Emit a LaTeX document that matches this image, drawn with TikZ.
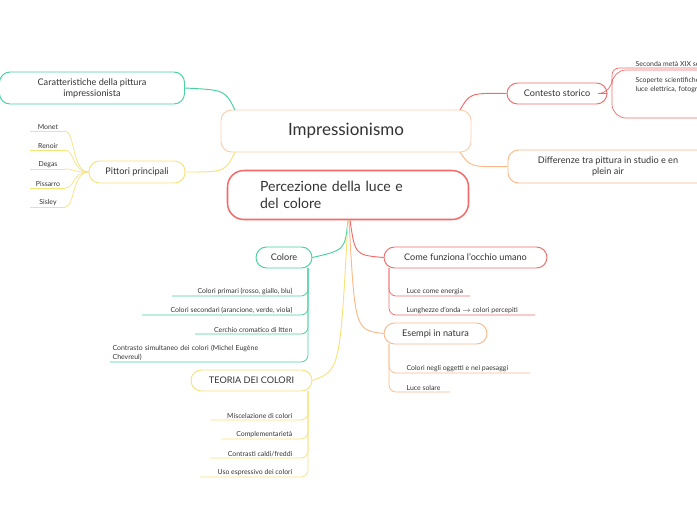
\documentclass[tikz,border=0pt]{standalone}
\usepackage{fontspec}
\setmainfont{Lato}
\usetikzlibrary{positioning}
\definecolor{cgreen}{HTML}{46D19F}
\definecolor{cyellow}{HTML}{F8E27A}
\definecolor{cred}{HTML}{F26B6B}
\definecolor{cpeach}{HTML}{FBB98A}
\definecolor{ctext}{HTML}{333333}
\begin{document}
\begin{tikzpicture}[x=0.03cm, y=-0.03cm, text=ctext]

\tikzstyle{topic}=[draw, rounded corners=9, line width=0.8pt, fill=white, font=\fontsize{7.8}{9.5}\selectfont, align=center, inner sep=0pt]
\tikzstyle{leaf}=[inner sep=1.2pt, font=\fontsize{5.9}{7.2}\selectfont, align=left]
\tikzstyle{branch}=[line width=0.8pt, rounded corners=6]

\useasboundingbox (0,0) rectangle (697,520);
\clip (0,0) rectangle (697,520);

% central topics
\node (imp) [topic, draw=cpeach!70, minimum width=250*0.03cm, minimum height=42*0.03cm, font=\fontsize{14.5}{16}\selectfont] at (346,131) {Impressionismo};
\node (perc) [topic, draw=cred, line width=1.3pt, rounded corners=14, minimum width=241*0.03cm, minimum height=49*0.03cm, font=\fontsize{12}{15}\selectfont, align=left, text width=176*0.03cm] at (348,195) {Percezione della luce e\\del colore};

% main branches
\node (car) [topic, draw=cgreen, minimum width=185*0.03cm, minimum height=32*0.03cm] at (92,88) {Caratteristiche della pittura\\impressionista};
\node (pit) [topic, draw=cyellow, minimum width=96*0.03cm, minimum height=22*0.03cm] at (137,172) {Pittori principali};
\node (con) [topic, draw=cred, minimum width=100*0.03cm, minimum height=21*0.03cm] at (557,93.5) {Contesto storico};
\node (dif) [topic, draw=cpeach, minimum width=200*0.03cm, minimum height=33*0.03cm] at (608,166.5) {Differenze tra pittura in studio e en\\plein air};

\draw [cgreen, line width=0.8pt] (235,110) .. controls (225,90) .. (car.east);
\draw [cyellow, line width=0.8pt] (235,152) .. controls (225,172) .. (pit.east);
\draw [cred, line width=0.8pt] (460,110) .. controls (470,93) .. (con.west);
\draw [cpeach, line width=0.8pt] (460,152) .. controls (470,167) .. (dif.west);

% pittori
\foreach \n/\t/\y in {p1/Monet/131, p2/Renoir/150, p3/Degas/169, p4/Pissarro/188, p5/Sisley/207}{
  \node (\n) [leaf, anchor=south] at (48,\y) {\t};
  \draw [cyellow, line width=0.6pt] (65,\y) -- (30,\y);
  \draw [cyellow, line width=0.6pt] (pit.west) .. controls (72,172) and (75,\y) .. (65,\y);
}

% contesto storico
\node (cs1) [leaf, anchor=south west] at (634,68) {Seconda metà XIX secolo};
\node (cs2) [leaf, anchor=north west, text width=100*0.03cm] at (634,76) {Scoperte scientifiche:\\luce elettrica, fotografia};
\draw [cred, line width=0.6pt, rounded corners=12] (con.east) -- (612,93.5) -- (612,70) -- (720,70) -- (720,118) -- (612,118) -- (612,93.5);
\draw [cred, line width=0.6pt, rounded corners=6] (612,93.5) |- (720,68);

% colore
\node (col) [topic, draw=cgreen, minimum width=56*0.03cm, minimum height=21*0.03cm] at (284,257.5) {Colore};
\node (tc) [topic, draw=cyellow, minimum width=121*0.03cm, minimum height=21*0.03cm] at (251.5,380.5) {TEORIA DEI COLORI};
\node (occ) [topic, draw=cred, minimum width=163*0.03cm, minimum height=21*0.03cm] at (465.5,257.5) {Come funziona l'occhio umano};
\node (ese) [topic, draw=cpeach, minimum width=103*0.03cm, minimum height=21*0.03cm] at (435.5,333.5) {Esempi in natura};

\draw [cgreen, line width=0.8pt] (348,220) .. controls (345,250) .. (col.east);
\draw [cyellow, line width=0.8pt] (348,220) .. controls (340,370) .. (tc.east);
\draw [cred, line width=0.8pt] (350,220) .. controls (355,255) .. (occ.west);
\draw [cpeach, line width=0.8pt] (349,220) .. controls (355,330) .. (ese.west);

\foreach \n/\t/\y/\xs in {c1/{Colori primari (rosso, giallo, blu)}/296/172, c2/{Colori secondari (arancione, verde, viola)}/315/142, c3/{Cerchio cromatico di Itten}/334/195}{
  \node (\n) [leaf, anchor=south east] at (294,\y) {\t};
  \draw [branch, cgreen, line width=0.6pt] (308,268) |- (\xs,\y);
}
\node (c4) [leaf, anchor=south west, text width=190*0.03cm] at (111,362) {Contrasto simultaneo dei colori (Michel Eugène\\Chevreul)};
\draw [branch, cgreen, line width=0.6pt] (308,268) |- (110,362);

\foreach \n/\t/\y/\xs in {t1/{Miscelazione di colori}/420/211, t2/{Complementarietà}/439/221, t3/{Contrasti caldi/freddi}/458/210, t4/{Uso espressivo dei colori}/477/200}{
  \node (\n) [leaf, anchor=south east] at (294,\y) {\t};
  \draw [branch, cyellow, line width=0.6pt] (308,391) |- (\xs,\y);
}

\foreach \n/\t/\y/\xe in {o1/{Luce come energia}/296/470, o2/{Lunghezze d'onda $\rightarrow$ colori percepiti}/315/535}{
  \node (\n) [leaf, anchor=south west] at (405,\y) {\t};
  \draw [branch, cred, line width=0.6pt] (389,268) |- (\xe,\y);
}
\foreach \n/\t/\y/\xe in {e1/{Colori negli oggetti e nei paesaggi}/373/530, e2/{Luce solare}/392/450}{
  \node (\n) [leaf, anchor=south west] at (405,\y) {\t};
  \draw [branch, cpeach, line width=0.6pt] (389,344) |- (\xe,\y);
}
\end{tikzpicture}
\end{document}
